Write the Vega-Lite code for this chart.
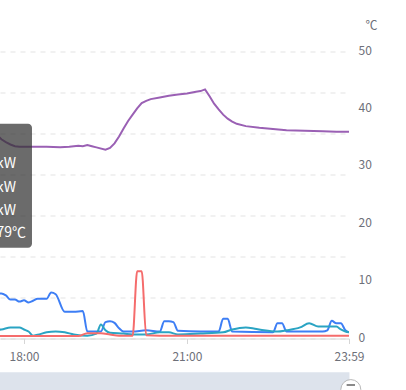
{
  "$schema": "https://vega.github.io/schema/vega-lite/v6.json",
  "width": 349,
  "height": 287,
  "autosize": "none",
  "padding": {"left": 0, "top": 51.5, "right": 57, "bottom": 51.5},
  "background": "white",
  "config": {"font": "Noto Sans CJK SC", "view": {"stroke": null}},
  "datasets": {
    "power": [
      {"t": "2024-01-01T17:20", "s": "b", "v": 1.10}, {"t": "2024-01-01T17:35", "s": "b", "v": 1.10}, {"t": "2024-01-01T17:40", "s": "b", "v": 1.05}, {"t": "2024-01-01T17:45", "s": "b", "v": 0.95}, {"t": "2024-01-01T17:50", "s": "b", "v": 0.95}, {"t": "2024-01-01T17:55", "s": "b", "v": 0.90}, {"t": "2024-01-01T18:00", "s": "b", "v": 0.93}, {"t": "2024-01-01T18:05", "s": "b", "v": 0.88}, {"t": "2024-01-01T18:10", "s": "b", "v": 0.92}, {"t": "2024-01-01T18:15", "s": "b", "v": 0.97}, {"t": "2024-01-01T18:25", "s": "b", "v": 0.97}, {"t": "2024-01-01T18:30", "s": "b", "v": 1.12}, {"t": "2024-01-01T18:35", "s": "b", "v": 1.08}, {"t": "2024-01-01T18:45", "s": "b", "v": 0.65}, {"t": "2024-01-01T18:55", "s": "b", "v": 0.65}, {"t": "2024-01-01T19:05", "s": "b", "v": 0.67}, {"t": "2024-01-01T19:10", "s": "b", "v": 0.17}, {"t": "2024-01-01T19:25", "s": "b", "v": 0.17}, {"t": "2024-01-01T19:30", "s": "b", "v": 0.40}, {"t": "2024-01-01T19:35", "s": "b", "v": 0.42}, {"t": "2024-01-01T19:40", "s": "b", "v": 0.38}, {"t": "2024-01-01T19:45", "s": "b", "v": 0.25}, {"t": "2024-01-01T19:50", "s": "b", "v": 0.17}, {"t": "2024-01-01T20:00", "s": "b", "v": 0.17}, {"t": "2024-01-01T20:15", "s": "b", "v": 0.20}, {"t": "2024-01-01T20:30", "s": "b", "v": 0.17}, {"t": "2024-01-01T20:35", "s": "b", "v": 0.42}, {"t": "2024-01-01T20:40", "s": "b", "v": 0.42}, {"t": "2024-01-01T20:45", "s": "b", "v": 0.40}, {"t": "2024-01-01T20:50", "s": "b", "v": 0.19}, {"t": "2024-01-01T21:15", "s": "b", "v": 0.17}, {"t": "2024-01-01T21:35", "s": "b", "v": 0.17}, {"t": "2024-01-01T21:40", "s": "b", "v": 0.48}, {"t": "2024-01-01T21:45", "s": "b", "v": 0.48}, {"t": "2024-01-01T21:50", "s": "b", "v": 0.17}, {"t": "2024-01-01T22:35", "s": "b", "v": 0.15}, {"t": "2024-01-01T22:40", "s": "b", "v": 0.37}, {"t": "2024-01-01T22:45", "s": "b", "v": 0.37}, {"t": "2024-01-01T22:50", "s": "b", "v": 0.17}, {"t": "2024-01-01T23:30", "s": "b", "v": 0.17}, {"t": "2024-01-01T23:35", "s": "b", "v": 0.20}, {"t": "2024-01-01T23:40", "s": "b", "v": 0.43}, {"t": "2024-01-01T23:45", "s": "b", "v": 0.37}, {"t": "2024-01-01T23:50", "s": "b", "v": 0.37}, {"t": "2024-01-01T23:55", "s": "b", "v": 0.20}, {"t": "2024-01-01T23:59", "s": "b", "v": 0.15},
      {"t": "2024-01-01T17:20", "s": "g", "v": 0.20}, {"t": "2024-01-01T17:35", "s": "g", "v": 0.22}, {"t": "2024-01-01T17:45", "s": "g", "v": 0.27}, {"t": "2024-01-01T17:55", "s": "g", "v": 0.27}, {"t": "2024-01-01T18:00", "s": "g", "v": 0.22}, {"t": "2024-01-01T18:05", "s": "g", "v": 0.17}, {"t": "2024-01-01T18:10", "s": "g", "v": 0.07}, {"t": "2024-01-01T18:15", "s": "g", "v": 0.09}, {"t": "2024-01-01T18:25", "s": "g", "v": 0.15}, {"t": "2024-01-01T18:35", "s": "g", "v": 0.17}, {"t": "2024-01-01T18:45", "s": "g", "v": 0.15}, {"t": "2024-01-01T18:55", "s": "g", "v": 0.10}, {"t": "2024-01-01T19:10", "s": "g", "v": 0.07}, {"t": "2024-01-01T19:20", "s": "g", "v": 0.12}, {"t": "2024-01-01T19:25", "s": "g", "v": 0.34}, {"t": "2024-01-01T19:30", "s": "g", "v": 0.20}, {"t": "2024-01-01T19:35", "s": "g", "v": 0.14}, {"t": "2024-01-01T19:50", "s": "g", "v": 0.12}, {"t": "2024-01-01T20:00", "s": "g", "v": 0.10}, {"t": "2024-01-01T20:15", "s": "g", "v": 0.10}, {"t": "2024-01-01T20:30", "s": "g", "v": 0.15}, {"t": "2024-01-01T20:40", "s": "g", "v": 0.15}, {"t": "2024-01-01T20:50", "s": "g", "v": 0.10}, {"t": "2024-01-01T21:15", "s": "g", "v": 0.12}, {"t": "2024-01-01T21:40", "s": "g", "v": 0.15}, {"t": "2024-01-01T21:50", "s": "g", "v": 0.22}, {"t": "2024-01-01T22:05", "s": "g", "v": 0.27}, {"t": "2024-01-01T22:15", "s": "g", "v": 0.24}, {"t": "2024-01-01T22:25", "s": "g", "v": 0.20}, {"t": "2024-01-01T22:40", "s": "g", "v": 0.17}, {"t": "2024-01-01T22:50", "s": "g", "v": 0.20}, {"t": "2024-01-01T23:05", "s": "g", "v": 0.27}, {"t": "2024-01-01T23:15", "s": "g", "v": 0.37}, {"t": "2024-01-01T23:25", "s": "g", "v": 0.29}, {"t": "2024-01-01T23:35", "s": "g", "v": 0.29}, {"t": "2024-01-01T23:45", "s": "g", "v": 0.29}, {"t": "2024-01-01T23:50", "s": "g", "v": 0.22}, {"t": "2024-01-01T23:55", "s": "g", "v": 0.17}, {"t": "2024-01-01T23:59", "s": "g", "v": 0.15},
      {"t": "2024-01-01T17:20", "s": "r", "v": 0.06}, {"t": "2024-01-01T19:00", "s": "r", "v": 0.06}, {"t": "2024-01-01T19:10", "s": "r", "v": 0.13}, {"t": "2024-01-01T19:25", "s": "r", "v": 0.13}, {"t": "2024-01-01T19:35", "s": "r", "v": 0.10}, {"t": "2024-01-01T19:45", "s": "r", "v": 0.07}, {"t": "2024-01-01T20:00", "s": "r", "v": 0.07}, {"t": "2024-01-01T20:05", "s": "r", "v": 1.64}, {"t": "2024-01-01T20:10", "s": "r", "v": 1.64}, {"t": "2024-01-01T20:15", "s": "r", "v": 0.08}, {"t": "2024-01-01T20:30", "s": "r", "v": 0.07}, {"t": "2024-01-01T23:59", "s": "r", "v": 0.07}
    ],
    "temp": [
      {"t": "2024-01-01T17:20", "c": 37.0}, {"t": "2024-01-01T17:25", "c": 36.3}, {"t": "2024-01-01T17:30", "c": 35.5}, {"t": "2024-01-01T17:35", "c": 34.7}, {"t": "2024-01-01T17:40", "c": 34.2}, {"t": "2024-01-01T17:45", "c": 33.8}, {"t": "2024-01-01T17:50", "c": 33.5}, {"t": "2024-01-01T17:55", "c": 33.4}, {"t": "2024-01-01T18:10", "c": 33.4}, {"t": "2024-01-01T18:25", "c": 33.4}, {"t": "2024-01-01T18:40", "c": 33.3}, {"t": "2024-01-01T18:50", "c": 33.4}, {"t": "2024-01-01T19:00", "c": 33.6}, {"t": "2024-01-01T19:05", "c": 33.5}, {"t": "2024-01-01T19:10", "c": 33.7}, {"t": "2024-01-01T19:15", "c": 33.5}, {"t": "2024-01-01T19:20", "c": 33.3}, {"t": "2024-01-01T19:30", "c": 32.9}, {"t": "2024-01-01T19:35", "c": 33.2}, {"t": "2024-01-01T19:40", "c": 34.0}, {"t": "2024-01-01T19:45", "c": 35.2}, {"t": "2024-01-01T19:50", "c": 36.6}, {"t": "2024-01-01T19:55", "c": 37.9}, {"t": "2024-01-01T20:00", "c": 39.0}, {"t": "2024-01-01T20:05", "c": 40.1}, {"t": "2024-01-01T20:10", "c": 41.0}, {"t": "2024-01-01T20:15", "c": 41.4}, {"t": "2024-01-01T20:20", "c": 41.7}, {"t": "2024-01-01T20:30", "c": 42.0}, {"t": "2024-01-01T20:40", "c": 42.3}, {"t": "2024-01-01T20:50", "c": 42.5}, {"t": "2024-01-01T21:00", "c": 42.7}, {"t": "2024-01-01T21:10", "c": 43.0}, {"t": "2024-01-01T21:15", "c": 43.1}, {"t": "2024-01-01T21:20", "c": 43.4}, {"t": "2024-01-01T21:25", "c": 42.2}, {"t": "2024-01-01T21:30", "c": 40.9}, {"t": "2024-01-01T21:35", "c": 39.9}, {"t": "2024-01-01T21:40", "c": 39.0}, {"t": "2024-01-01T21:45", "c": 38.3}, {"t": "2024-01-01T21:50", "c": 37.8}, {"t": "2024-01-01T21:55", "c": 37.4}, {"t": "2024-01-01T22:05", "c": 37.0}, {"t": "2024-01-01T22:20", "c": 36.7}, {"t": "2024-01-01T22:35", "c": 36.5}, {"t": "2024-01-01T22:50", "c": 36.3}, {"t": "2024-01-01T23:10", "c": 36.2}, {"t": "2024-01-01T23:30", "c": 36.1}, {"t": "2024-01-01T23:45", "c": 36.0}, {"t": "2024-01-01T23:59", "c": 36.0}
    ]
  },
  "resolve": {"scale": {"y": "independent"}, "axis": {"y": "independent"}},
  "layer": [
    {
      "data": {"name": "power"},
      "mark": {"type": "line", "strokeWidth": 2, "interpolate": "monotone", "clip": true},
      "encoding": {
        "x": {
          "field": "t", "type": "temporal",
          "scale": {"domain": [{"year": 2024, "month": 1, "date": 1, "hours": 17, "minutes": 33, "seconds": 30}, {"year": 2024, "month": 1, "date": 1, "hours": 23, "minutes": 59}]},
          "axis": {
            "values": [{"year": 2024, "month": 1, "date": 1, "hours": 18}, {"year": 2024, "month": 1, "date": 1, "hours": 21}, {"year": 2024, "month": 1, "date": 1, "hours": 23, "minutes": 59}],
            "format": "%H:%M", "title": null, "grid": false,
            "labelColor": "#6e7079", "labelFontSize": 12, "labelPadding": 8,
            "tickSize": 5, "tickColor": "#d6d6d6", "domainColor": "#d6d6d6",
            "labelOverlap": false, "labelFlush": false, "labelBound": false
          }
        },
        "y": {
          "field": "v", "type": "quantitative",
          "scale": {"domain": [0, 7]},
          "axis": {"orient": "left", "values": [0, 1, 2, 3, 4, 5, 6, 7], "labels": false, "ticks": false, "domain": false, "title": null, "grid": true, "gridColor": "#e3e3e3", "gridDash": [5, 5]}
        },
        "color": {"field": "s", "type": "nominal", "scale": {"domain": ["b", "g", "r"], "range": ["#3d7ef5", "#2aa4c3", "#f56c6c"]}, "legend": null}
      }
    },
    {
      "layer": [
        {
          "data": {"name": "temp"},
          "mark": {"type": "line", "color": "#9a60b4", "strokeWidth": 2, "clip": true},
          "encoding": {
            "x": {"field": "t", "type": "temporal", "scale": {"domain": [{"year": 2024, "month": 1, "date": 1, "hours": 17, "minutes": 33, "seconds": 30}, {"year": 2024, "month": 1, "date": 1, "hours": 23, "minutes": 59}]}},
            "y": {
              "field": "c", "type": "quantitative",
              "scale": {"domain": [0, 50]},
              "axis": {
                "orient": "right", "values": [0, 10, 20, 30, 40, 50], "grid": false, "ticks": false, "domain": false,
                "labelPadding": 9, "labelOffset": -1.5, "labelColor": "#6e7079", "labelFontSize": 12,
                "title": "℃", "titleAngle": 0, "titleX": 22, "titleY": -26, "titleAlign": "center", "titleBaseline": "middle",
                "titleFontWeight": "normal", "titleFontSize": 12, "titleColor": "#6e7079"
              }
            }
          }
        },
        {
          "data": {"values": [{}]},
          "mark": {"type": "rect", "fill": "#dde3ec", "clip": false},
          "encoding": {
            "x": {"datum": {"year": 2024, "month": 1, "date": 1, "hours": 17, "minutes": 0}, "type": "temporal"},
            "x2": {"datum": {"year": 2024, "month": 1, "date": 1, "hours": 23, "minutes": 59, "seconds": 30}},
            "y": {"datum": -5.9, "type": "quantitative"},
            "y2": {"datum": -10}
          }
        },
        {
          "data": {"values": [{}]},
          "mark": {"type": "point", "shape": "circle", "size": 400, "filled": true, "fill": "white", "stroke": "#b8b8b8", "strokeWidth": 1, "opacity": 1, "clip": false},
          "encoding": {
            "x": {"datum": {"year": 2024, "month": 1, "date": 1, "hours": 24, "minutes": 1}, "type": "temporal"},
            "y": {"datum": -8.9, "type": "quantitative"}
          }
        },
        {
          "data": {"values": [{}]},
          "mark": {"type": "point", "shape": "stroke", "size": 70, "stroke": "#8a8a8a", "strokeWidth": 2, "opacity": 1, "clip": false},
          "encoding": {
            "x": {"datum": {"year": 2024, "month": 1, "date": 1, "hours": 24, "minutes": 1}, "type": "temporal"},
            "y": {"datum": -8.1, "type": "quantitative"}
          }
        },
        {
          "data": {"values": [{}]},
          "mark": {"type": "rect", "fill": "#323232", "fillOpacity": 0.72, "cornerRadius": 4, "clip": false},
          "encoding": {
            "x": {"datum": {"year": 2024, "month": 1, "date": 1, "hours": 16, "minutes": 50}, "type": "temporal"},
            "x2": {"datum": {"year": 2024, "month": 1, "date": 1, "hours": 18, "minutes": 8, "seconds": 50}},
            "y": {"datum": 37.4, "type": "quantitative"},
            "y2": {"datum": 15.8}
          }
        },
        {
          "data": {"values": [{}]},
          "mark": {"type": "text", "text": ["总功率: 1.32kW", "空调: 1.10kW", "热水器: 0.06kW"], "lineHeight": 23.6, "align": "right", "baseline": "middle", "fontSize": 14, "color": "#ffffff", "clip": false},
          "encoding": {
            "x": {"datum": {"year": 2024, "month": 1, "date": 1, "hours": 17, "minutes": 51, "seconds": 12}, "type": "temporal"},
            "y": {"datum": 30.4, "type": "quantitative"}
          }
        },
        {
          "data": {"values": [{}]},
          "mark": {"type": "text", "text": "温度: 34.79℃", "align": "right", "baseline": "middle", "fontSize": 14, "color": "#ffffff", "clip": false},
          "encoding": {
            "x": {"datum": {"year": 2024, "month": 1, "date": 1, "hours": 18, "minutes": 2, "seconds": 12}, "type": "temporal"},
            "y": {"datum": 18.4, "type": "quantitative"}
          }
        }
      ]
    }
  ]
}
